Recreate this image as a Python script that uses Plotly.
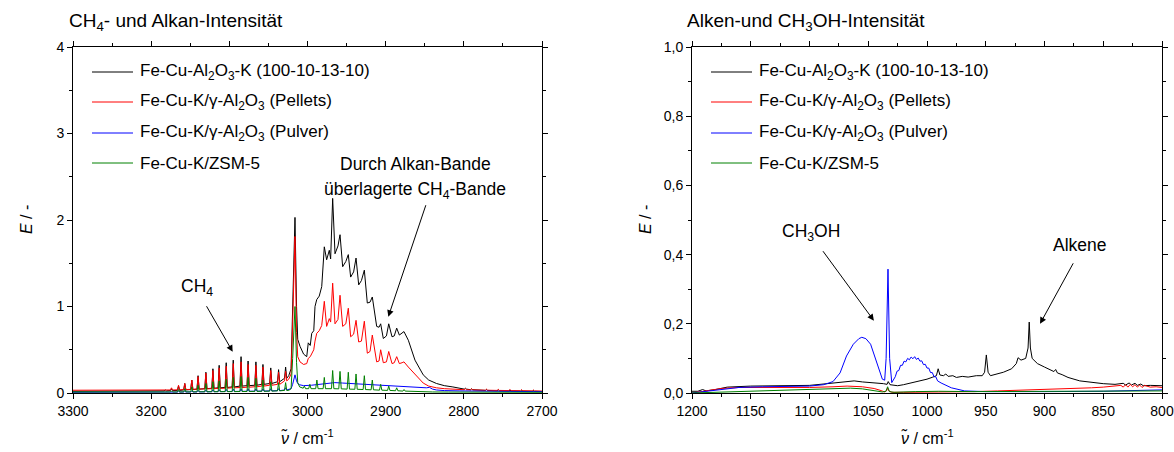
import plotly.graph_objects as go

# ---------------------------------------------------------------------------
# Left panel: CH4 and alkane band (3300-2700 cm-1)
# ---------------------------------------------------------------------------
# flat region before the CH4 R branch
L_START_X = [3300, 3250, 3200, 3188]
K_START_Y = [0.02, 0.02, 0.022, 0.024]
P_START_Y = [0.032, 0.032, 0.033, 0.034]
V_START_Y = [0.008, 0.008, 0.009, 0.01]
Z_START_Y = [0.012, 0.012, 0.012, 0.012]

# CH4 R-branch rotational lines (cm-1): foot level and top of each line
R_LINES = [3182, 3174, 3165, 3157, 3148, 3140, 3130, 3121, 3113, 3104, 3095, 3085, 3076, 3066, 3057, 3047, 3037, 3028]
K_R_TOP = [0.035, 0.05, 0.08, 0.11, 0.15, 0.2, 0.24, 0.28, 0.32, 0.35, 0.38, 0.42, 0.37, 0.36, 0.33, 0.29, 0.27, 0.3]
K_R_FOOT = [0.025, 0.028, 0.03, 0.035, 0.04, 0.045, 0.05, 0.055, 0.06, 0.065, 0.07, 0.08, 0.085, 0.09, 0.1, 0.11, 0.13, 0.17]
P_R_TOP = [0.04, 0.06, 0.09, 0.11, 0.15, 0.19, 0.23, 0.26, 0.29, 0.31, 0.34, 0.36, 0.33, 0.32, 0.3, 0.26, 0.24, 0.25]
P_R_FOOT = [0.035, 0.035, 0.037, 0.04, 0.042, 0.045, 0.048, 0.05, 0.053, 0.056, 0.06, 0.063, 0.067, 0.072, 0.08, 0.09, 0.1, 0.14]
V_R_TOP = [0.012, 0.015, 0.02, 0.022, 0.025, 0.03, 0.033, 0.036, 0.04, 0.042, 0.045, 0.048, 0.048, 0.048, 0.048, 0.05, 0.05, 0.06]
V_R_FOOT = [0.01, 0.01, 0.011, 0.012, 0.012, 0.013, 0.014, 0.015, 0.016, 0.017, 0.018, 0.019, 0.02, 0.021, 0.022, 0.024, 0.027, 0.035]
Z_R_TOP = [0.015, 0.025, 0.04, 0.05, 0.07, 0.09, 0.11, 0.13, 0.14, 0.16, 0.18, 0.19, 0.18, 0.17, 0.15, 0.13, 0.12, 0.12]
Z_R_FOOT = [0.012, 0.012, 0.012, 0.013, 0.013, 0.014, 0.014, 0.015, 0.015, 0.016, 0.016, 0.017, 0.018, 0.019, 0.02, 0.022, 0.025, 0.03]

# Q branch and alkane band (black and red share the wavenumber grid)
KP_MID_X = [3024, 3021, 3019, 3016, 3014, 3012.5, 3009.6, 3005, 3001, 2999,
            2996.5, 2994.6, 2992, 2990.4, 2988.2, 2985, 2981.8, 2978.5, 2975.5, 2972.1,
            2970.4, 2967.8, 2964.8, 2961, 2958.4, 2955, 2951, 2947.8, 2944.8, 2941,
            2937.9, 2934.5, 2931, 2927.3, 2923.5, 2920, 2917.1, 2911.5, 2908.5, 2906.4,
            2903, 2899, 2896.1, 2891.9, 2889, 2885.9, 2882.5, 2879, 2876.6, 2871,
            2862.5, 2852, 2845, 2835, 2825, 2814, 2805]
K_MID_Y = [0.2, 0.28, 0.9, 2.03, 1.0, 0.62, 0.54, 0.45, 0.42, 0.58,
           0.55, 0.69, 0.72, 1.0, 1.08, 1.12, 1.23, 1.69, 1.54, 1.65,
           1.55, 2.25, 1.61, 1.7, 1.83, 1.46, 1.52, 1.6, 1.34, 1.4,
           1.56, 1.25, 1.3, 1.42, 1.04, 1.05, 1.11, 0.77, 0.76, 0.8,
           0.63, 0.66, 0.8, 0.65, 0.66, 0.75, 0.67, 0.7, 0.71, 0.61,
           0.38, 0.21, 0.15, 0.11, 0.085, 0.07, 0.05]
P_MID_Y = [0.16, 0.22, 0.8, 1.81, 0.7, 0.42, 0.36, 0.33, 0.34, 0.4,
           0.42, 0.46, 0.5, 0.6, 0.69, 0.72, 0.78, 1.06, 0.77, 0.86,
           0.82, 1.27, 0.8, 0.85, 1.13, 0.77, 0.8, 0.98, 0.65, 0.68,
           0.84, 0.59, 0.6, 0.83, 0.46, 0.48, 0.67, 0.36, 0.37, 0.5,
           0.35, 0.36, 0.48, 0.34, 0.35, 0.42, 0.34, 0.35, 0.36, 0.3,
           0.22, 0.115, 0.08, 0.06, 0.05, 0.045, 0.04]

V_MID_X = [3024, 3021, 3019, 3016, 3014, 3012.5, 3010, 3005, 2995, 2985,
           2975, 2965, 2955, 2945, 2930, 2915, 2900, 2880, 2865, 2855,
           2848, 2844, 2840, 2835, 2825, 2805, 2750, 2700]
V_MID_Y = [0.04, 0.05, 0.1, 0.21, 0.14, 0.11, 0.095, 0.085, 0.09, 0.1,
           0.11, 0.12, 0.115, 0.11, 0.1, 0.09, 0.085, 0.075, 0.07, 0.065,
           0.06, 0.065, 0.045, 0.035, 0.028, 0.024, 0.02, 0.015]

Z_MID_X = [3024, 3021, 3019, 3016, 3014, 3012.5, 3010, 3005.5, 3004, 3002.5,
           2998.5, 2997, 2995.5, 2989.5, 2988, 2986.5, 2980, 2978.5, 2977, 2969.3,
           2967.8, 2966.3, 2960, 2958.4, 2956.8, 2949.3, 2947.8, 2946.3, 2939.4, 2937.9,
           2936.4, 2928.8, 2927.3, 2925.8, 2918.6, 2917.1, 2915.6, 2907.9, 2906.4, 2904.9,
           2897.6, 2896.1, 2894.6, 2887.4, 2885.9, 2884.4, 2878, 2876.5, 2875, 2860,
           2850, 2840, 2820, 2805, 2750, 2700]
Z_MID_Y = [0.03, 0.05, 0.4, 1.0, 0.35, 0.12, 0.07, 0.055, 0.08, 0.05,
           0.05, 0.1, 0.05, 0.05, 0.15, 0.05, 0.05, 0.18, 0.05, 0.05,
           0.26, 0.05, 0.048, 0.25, 0.048, 0.045, 0.24, 0.045, 0.043, 0.22,
           0.043, 0.04, 0.2, 0.04, 0.037, 0.15, 0.037, 0.033, 0.1, 0.033,
           0.03, 0.08, 0.03, 0.026, 0.06, 0.026, 0.022, 0.04, 0.022, 0.016,
           0.013, 0.012, 0.011, 0.01, 0.01, 0.008]

# weak lines in the low-wavenumber tail
TAIL_LINES = [2798, 2790, 2771, 2756, 2741, 2726, 2711]
K_TAIL_TOP = [0.055, 0.048, 0.04, 0.036, 0.034, 0.032, 0.03]
K_TAIL_FOOT = [0.045, 0.038, 0.03, 0.026, 0.024, 0.022, 0.02]
P_TAIL_TOP = [0.05, 0.048, 0.044, 0.042, 0.04, 0.038, 0.034]
P_TAIL_FOOT = [0.038, 0.036, 0.032, 0.03, 0.028, 0.026, 0.024]
END_X = [2700]
K_END_Y = [0.018]
P_END_Y = [0.022]

# ---------------------------------------------------------------------------
# Right panel: alkene and CH3OH region (1200-800 cm-1)
# ---------------------------------------------------------------------------
K2_X = [1200, 1195, 1191, 1188, 1180, 1170, 1150, 1130, 1110, 1100,
        1085, 1070, 1062, 1055, 1045, 1037, 1034, 1033, 1031.5, 1025,
        1020, 1010, 1000, 995, 992, 990.5, 989, 986, 984, 982,
        978, 975, 970, 965, 958, 953, 951, 949.5, 948, 946,
        940, 935, 928, 924, 922.5, 920, 916, 914, 913, 912,
        910.5, 906, 900, 895, 892, 890.5, 889, 885, 880, 870,
        860, 850, 840, 833, 831, 828, 826, 823, 821, 818,
        816, 810, 800]
K2_Y = [0.005, 0.005, 0.01, 0.006, 0.01, 0.017, 0.02, 0.021, 0.021, 0.022,
        0.027, 0.033, 0.035, 0.032, 0.03, 0.027, 0.025, 0.033, 0.024, 0.021,
        0.024, 0.031, 0.04, 0.046, 0.05, 0.07, 0.052, 0.05, 0.055, 0.048,
        0.05, 0.045, 0.048, 0.046, 0.05, 0.05, 0.06, 0.11, 0.06, 0.05,
        0.055, 0.06, 0.07, 0.085, 0.102, 0.095, 0.1, 0.13, 0.205, 0.13,
        0.1, 0.085, 0.075, 0.066, 0.062, 0.068, 0.058, 0.053, 0.045, 0.035,
        0.03, 0.027, 0.025, 0.028, 0.023, 0.029, 0.023, 0.028, 0.022, 0.026,
        0.021, 0.022, 0.021]

P2_X = [1200, 1190, 1175, 1160, 1140, 1120, 1100, 1080, 1068, 1055,
        1045, 1040, 1036, 1034.5, 1033.5, 1032.5, 1030, 1020, 1000, 980,
        960, 940, 920, 900, 880, 860, 850, 840, 835, 833,
        831, 829, 827, 825, 823, 821, 819, 817, 815, 810,
        805, 800]
P2_Y = [0.0, 0.005, 0.013, 0.016, 0.016, 0.015, 0.016, 0.018, 0.02, 0.018,
        0.013, 0.008, 0.003, 0.006, 0.014, 0.006, 0.002, 0.002, 0.002, 0.003,
        0.004, 0.006, 0.008, 0.009, 0.011, 0.015, 0.017, 0.019, 0.022, 0.017,
        0.024, 0.017, 0.025, 0.018, 0.024, 0.017, 0.023, 0.016, 0.022, 0.017,
        0.018, 0.016]

V2_X = [1200, 1190, 1175, 1160, 1140, 1120, 1100, 1088, 1080, 1074,
        1068.5, 1062.7, 1058, 1055.5, 1052, 1048, 1042.6, 1038, 1036, 1034.8,
        1033.2, 1031.8, 1030, 1027, 1025.5, 1024, 1022.5, 1021, 1019.5, 1018,
        1016.5, 1015, 1013.5, 1012, 1010.5, 1009, 1007.5, 1006, 1004.5, 1003,
        1001.5, 1000, 998.5, 997, 995.5, 994, 992.5, 991, 988, 979.3,
        968, 950, 900, 850, 800]
V2_Y = [0.0, 0.004, 0.012, 0.016, 0.018, 0.019, 0.02, 0.024, 0.033, 0.058,
        0.107, 0.141, 0.157, 0.161, 0.157, 0.141, 0.088, 0.04, 0.037, 0.1,
        0.358, 0.1, 0.03, 0.047, 0.063, 0.065, 0.08, 0.08, 0.092, 0.09,
        0.1, 0.096, 0.104, 0.099, 0.105, 0.097, 0.101, 0.092, 0.093, 0.082,
        0.083, 0.072, 0.072, 0.059, 0.059, 0.047, 0.047, 0.035, 0.029, 0.015,
        0.006, 0.004, 0.004, 0.005, 0.009]

Z2_X = [1200, 1180, 1150, 1120, 1100, 1080, 1065, 1055, 1045, 1038,
        1035, 1033.5, 1032, 1028, 1010, 990, 960, 930, 900, 870,
        840, 800]
Z2_Y = [0.0, 0.002, 0.004, 0.007, 0.009, 0.012, 0.014, 0.012, 0.007, 0.003,
        0.005, 0.018, 0.004, 0.002, 0.004, 0.005, 0.004, 0.004, 0.004, 0.005,
        0.006, 0.006]

SERIES_NAMES = [
    "Fe-Cu-Al<sub>2</sub>O<sub>3</sub>-K (100-10-13-10)",
    "Fe-Cu-K/γ-Al<sub>2</sub>O<sub>3</sub> (Pellets)",
    "Fe-Cu-K/γ-Al<sub>2</sub>O<sub>3</sub> (Pulver)",
    "Fe-Cu-K/ZSM-5",
]
SERIES_COLORS = ["#000000", "#ff0000", "#0000ff", "#008000"]

LINE_HALF_WIDTH = 1.4  # half base width of a rotational line, cm-1


def line_comb(positions, feet, tops, half=LINE_HALF_WIDTH):
    """Vertices for a run of narrow lines standing on the given foot levels."""
    xs, ys = [], []
    for p, f, t in zip(positions, feet, tops):
        xs += [p + half, p, p - half]
        ys += [f, t, f]
    return xs, ys


def join(*parts):
    xs, ys = [], []
    for px_, py_ in parts:
        xs += list(px_)
        ys += list(py_)
    return xs, ys


left_series = [
    join((L_START_X, K_START_Y), line_comb(R_LINES, K_R_FOOT, K_R_TOP), (KP_MID_X, K_MID_Y),
         line_comb(TAIL_LINES, K_TAIL_FOOT, K_TAIL_TOP), (END_X, K_END_Y)),
    join((L_START_X, P_START_Y), line_comb(R_LINES, P_R_FOOT, P_R_TOP), (KP_MID_X, P_MID_Y),
         line_comb(TAIL_LINES, P_TAIL_FOOT, P_TAIL_TOP), (END_X, P_END_Y)),
    join((L_START_X, V_START_Y), line_comb(R_LINES, V_R_FOOT, V_R_TOP), (V_MID_X, V_MID_Y)),
    join((L_START_X, Z_START_Y), line_comb(R_LINES, Z_R_FOOT, Z_R_TOP), (Z_MID_X, Z_MID_Y)),
]
right_series = [(K2_X, K2_Y), (P2_X, P2_Y), (V2_X, V2_Y), (Z2_X, Z2_Y)]

fig = go.Figure()
for (xs, ys), name, col in zip(left_series, SERIES_NAMES, SERIES_COLORS):
    fig.add_trace(go.Scatter(x=xs, y=ys, mode="lines", name=name,
                             line=dict(color=col, width=1), xaxis="x", yaxis="y"))
for (xs, ys), name, col in zip(right_series, SERIES_NAMES, SERIES_COLORS):
    fig.add_trace(go.Scatter(x=xs, y=ys, mode="lines", name=name,
                             line=dict(color=col, width=1), xaxis="x2", yaxis="y2"))

# ---------------------------------------------------------------------------
# Layout
# ---------------------------------------------------------------------------
W, H = 1174, 452
FONT = "Liberation Sans, Arial, sans-serif"


def fx(x):
    return x / W


def fy(y):
    return 1 - y / H


axis_common = dict(showline=True, linecolor="black", linewidth=1, mirror="allticks",
                   ticks="outside", ticklen=5, tickwidth=1, tickcolor="black",
                   showgrid=False, zeroline=False, automargin=False,
                   tickfont=dict(family=FONT, size=14, color="black"))

fig.update_layout(
    width=W, height=H, margin=dict(l=0, r=0, t=0, b=0, autoexpand=False),
    paper_bgcolor="white", plot_bgcolor="white", showlegend=False,
    separators=",.",
    font=dict(family=FONT, color="black"),
    xaxis=dict(domain=[fx(73), fx(542)], range=[3300, 2700], dtick=100, anchor="y",
               minor=dict(ticks="outside", ticklen=3, tickcolor="black", dtick=50),
               **axis_common),
    yaxis=dict(domain=[fy(393), fy(47)], range=[0, 4], dtick=1, anchor="x",
               minor=dict(ticks="outside", ticklen=3, tickcolor="black", dtick=0.5),
               **axis_common),
    xaxis2=dict(domain=[fx(692), fx(1162)], range=[1200, 800], dtick=50, anchor="y2",
                minor=dict(ticks="outside", ticklen=3, tickcolor="black", dtick=25),
                **axis_common),
    yaxis2=dict(domain=[fy(393), fy(47)], range=[0, 1], dtick=0.2, tickformat=".1f",
                anchor="x2",
                minor=dict(ticks="outside", ticklen=3, tickcolor="black", dtick=0.1),
                **axis_common),
)

annotations = []
shapes = []


def text(x, y, s, size, xanchor="center", angle=0):
    annotations.append(dict(xref="paper", yref="paper", x=fx(x), y=fy(y), text=s,
                            showarrow=False, xanchor=xanchor, yanchor="middle",
                            textangle=angle, font=dict(family=FONT, size=size, color="black")))


# panel titles
text(67, 22, "CH<sub>4</sub>- und Alkan-Intensität", 19, xanchor="left")
text(685, 22, "Alken-und CH<sub>3</sub>OH-Intensität", 19, xanchor="left")

# axis titles
for cx in (307, 927):
    text(cx, 437, "<i>ν̃</i> / cm<sup>-1</sup>", 16)
text(26, 220, "<i>E</i> / -", 16, angle=-90)
text(645, 220, "<i>E</i> / -", 16, angle=-90)

# legends
LEG_ROWS = [72, 102, 133, 163]
for x0, tx in ((92, 138), (711, 757)):
    for row, name, col in zip(LEG_ROWS, SERIES_NAMES, SERIES_COLORS):
        shapes.append(dict(type="line", xref="paper", yref="paper",
                           x0=fx(x0), x1=fx(x0 + 41), y0=fy(row), y1=fy(row),
                           line=dict(color=col, width=1)))
        text(tx, row, name, 17, xanchor="left")

# band labels with arrows
text(197, 287, "CH<sub>4</sub>", 17.5)
text(415, 164, "Durch Alkan-Bande", 17.5)
text(415, 190, "überlagerte CH<sub>4</sub>-Bande", 17.5)
text(811, 232, "CH<sub>3</sub>OH", 17.5)
text(1080, 245, "Alkene", 17.5)

arrow_common = dict(text="", showarrow=True, arrowhead=2, arrowsize=1.3, arrowwidth=1,
                    arrowcolor="black", axref="pixel", ayref="pixel")
annotations += [
    dict(x=3095.7, y=0.477, xref="x", yref="y", ax=-27, ay=-47, **arrow_common),
    dict(x=2896.6, y=0.882, xref="x", yref="y", ax=38, ay=-113, **arrow_common),
    dict(x=1045.2, y=0.209, xref="x2", yref="y2", ax=-52, ay=-71, **arrow_common),
    dict(x=903.8, y=0.2, xref="x2", yref="y2", ax=34, ay=-62, **arrow_common),
]

fig.update_layout(annotations=annotations, shapes=shapes)
fig.write_html("out.html")
